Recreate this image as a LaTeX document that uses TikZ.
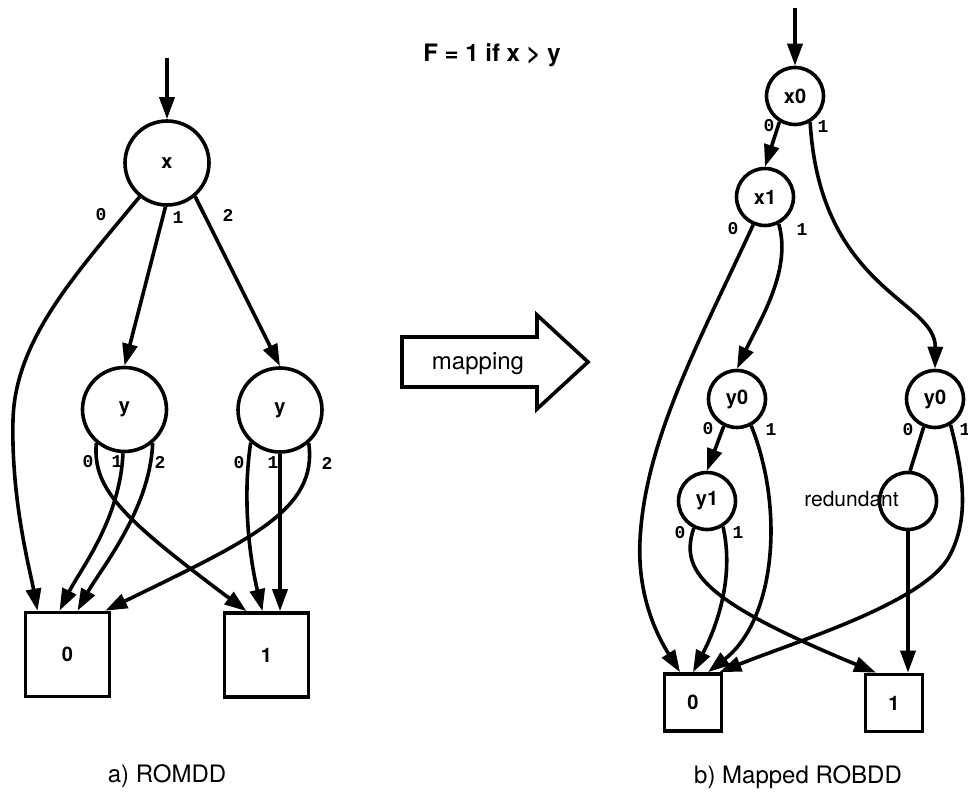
\documentclass[tikz,border=0pt]{standalone}
\usepackage{fontspec}
\setmainfont{TeX Gyre Heros}
\setmonofont{Liberation Mono}
\usetikzlibrary{arrows.meta}

\begin{document}
\begin{tikzpicture}[x=0.5pt, y=-0.5pt, line width=1.8pt,
    bignode/.style={circle, draw, minimum size=42pt, inner sep=0pt, font=\fontsize{10}{12}\selectfont\bfseries},
    smallnode/.style={circle, draw, minimum size=28.5pt, inner sep=0pt, font=\fontsize{10}{12}\selectfont\bfseries},
    bigleaf/.style={rectangle, draw, minimum size=42pt, inner sep=0pt, font=\fontsize{10}{12}\selectfont\bfseries},
    smallleaf/.style={rectangle, draw, minimum size=28.5pt, inner sep=0pt, font=\fontsize{10}{12}\selectfont\bfseries},
    lbl/.style={font=\fontsize{9}{10}\selectfont\ttfamily\bfseries, inner sep=0pt},
    branch/.style={-{Triangle[length=11pt,width=7.5pt]}},
    capt/.style={font=\fontsize{12}{14}\selectfont, anchor=base, inner sep=0pt}]

    \useasboundingbox (0,0) rectangle (968,795);

    % a) multi-valued diagram
    \node[bignode] (x) at (167,163) {x};
    \node[bignode] (yl) at (124.5,409.5) {y};
    \node[bignode] (yr) at (280,410) {y};
    \node[bigleaf] (zl) at (67.5,654.5) {0};
    \node[bigleaf] (ol) at (266.5,655) {1};
    \coordinate (inl) at (167,58);

    \draw[branch] (inl) -- (x.north);
    \draw[branch] (x.231) .. controls (75,275) and (15,340) .. (13,420)
        .. controls (11,500) and (30,570) .. ([xshift=-15pt]zl.north);
    \draw[branch] (x.268) -- (yl.north);
    \draw[branch] (x.310) -- (yr.north);
    \draw[branch] (yl.230) .. controls (92,490) and (125,520) .. ([xshift=-10pt]ol.north);
    \draw[branch] (yl.268) .. controls (120,520) and (80,570) .. ([xshift=-4pt]zl.north);
    \draw[branch] (yl.310) .. controls (150,510) and (100,570) .. ([xshift=5pt]zl.north);
    \draw[branch] (yr.228) .. controls (242,500) and (250,560) .. ([xshift=-2pt]ol.north);
    \draw[branch] (yr.south) -- (yr.south |- ol.north);
    \draw[branch] (yr.311) .. controls (318,510) and (250,540) .. ([xshift=-3pt]zl.north east);

    \foreach \n/\px/\py/\t in {lx0/101/215/0, lx1/178/218/1, lx2/228/215/2,
        lyl0/88/462/0, lyl1/117/462/1, lyl2/160/462/2,
        lyr0/239/463/0, lyr1/273/463/1, lyr2/327/463/2}
        \node[lbl] (\n) at (\px,\py) {\t};

    \node[capt] (capa) at (167,782) {a) ROMDD};

    % mapping arrow and function
    \node[capt, font=\fontsize{12}{14}\selectfont\bfseries] (func) at (492,62) {F = 1 if x > y};
    \draw (402,337) -- (537,337) -- (537,315) -- (588,362) -- (537,409) -- (537,387) -- (402,387) -- cycle;
    \node[capt] (map) at (478,370) {mapping};

    % b) binary diagram
    \node[smallnode] (xa) at (795,96) {x0};
    \node[smallnode] (xb) at (765,197) {x1};
    \node[smallnode] (ya) at (737,399) {y0};
    \node[smallnode] (yc) at (935,399) {y0};
    \node[smallnode] (yb) at (707,501) {y1};
    \node[smallnode] (rd) at (908,501) {};
    \node[smallleaf] (zr) at (693,702.5) {0};
    \node[smallleaf] (or) at (894,703) {1};
    \node[capt, font=\fontsize{10.5}{12}\selectfont] (rdtext) at (851.5,507) {redundant};
    \coordinate (inr) at (795,8);

    \draw[branch] (inr) -- (xa.north);
    \draw[branch] (xa.239) -- (xb.north);
    \draw[branch] (xa.300) .. controls (820,290) and (936,300) .. (yc.north);
    \draw[branch] (xb.247) .. controls (700,340) and (645,440) .. (640,540)
        .. controls (637,600) and (660,640) .. ([xshift=-6.5pt]zr.north);
    \draw[branch] (xb.297) .. controls (792,270) and (760,320) .. (ya.north);
    \draw[branch] (ya.244) -- (yb.north);
    \draw[branch] (ya.298) .. controls (785,510) and (775,620) .. ([xshift=7.5pt]zr.north);
    \draw[branch] (yb.244) .. controls (680,570) and (700,600) .. ([xshift=-9pt]or.north);
    \draw[branch] (yb.302) .. controls (735,580) and (715,630) .. (zr.north);
    \draw (yc.248) -- (rd.86);
    \draw[branch] (yc.301) .. controls (965,480) and (968,520) .. (950,555)
        .. controls (926,602) and (800,640) .. ([xshift=-2pt]zr.north east);
    \draw[branch] (rd.south) -- (rd.south |- or.north);

    \foreach \n/\px/\py/\t in {lxa0/769/126/0, lxa1/823/127/1, lxb0/733/229/0, lxb1/802/230/1,
        lya0/708/429/0, lya1/771/430/1, lyc0/908/430/0, lyc1/965/430/1,
        lyb0/680/533/0, lyb1/738/533/1}
        \node[lbl] (\n) at (\px,\py) {\t};

    \node[capt] (capb) at (798,783) {b) Mapped ROBDD};
\end{tikzpicture}
\end{document}
